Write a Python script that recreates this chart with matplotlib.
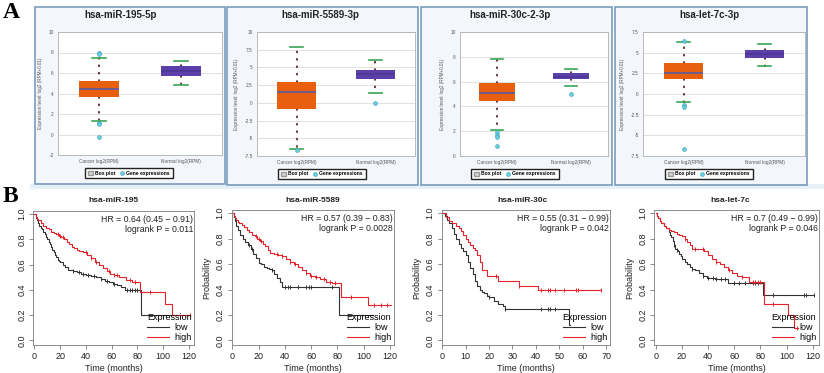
import matplotlib
matplotlib.use('Agg')
import matplotlib.pyplot as plt
from matplotlib.patches import Rectangle, Patch
from matplotlib.lines import Line2D
import numpy as np

plt.rcParams['font.family'] = ['Liberation Sans', 'DejaVu Sans']

# ---------------- Panel A : expression box plots ----------------
a_titles = ['hsa-miR-195-5p', 'hsa-miR-5589-3p', 'hsa-miR-30c-2-3p', 'hsa-let-7c-3p']
a_groups = ['Cancer log2(RPM)', 'Normal log2(RPM)']
a_yticks = [
    [-2, 0, 2, 4, 6, 8, 10],
    [-7.5, -5, -2.5, 0, 2.5, 5, 7.5, 10],
    [0, 2, 4, 6, 8, 10],
    [-7.5, -5, -2.5, 0, 2.5, 5, 7.5],
]
# q1, median, q3, whisker low, whisker high
cancer_box = [
    [3.65, 4.45, 5.25, 1.35, 7.5],
    [-0.9, 1.5, 2.9, -6.5, 7.9],
    [4.4, 5.1, 5.9, 2.1, 7.8],
    [1.8, 2.6, 3.7, -1.0, 6.3],
]
cancer_fliers = [
    [8.0, 7.9, 1.1, 1.0, -0.27],
    [-6.7],
    [1.9, 1.7, 1.55, 0.8],
    [6.45, -1.3, -1.6, -6.7],
]
normal_box = [
    [5.7, 6.2, 6.7, 4.85, 7.2],
    [3.3, 4.1, 4.6, 1.4, 6.0],
    [6.2, 6.35, 6.7, 5.65, 7.0],
    [4.3, 4.8, 5.3, 3.4, 6.1],
]
normal_fliers = [[], [0.0], [5.0], []]

# ---------------- Panel B : Kaplan-Meier curves ----------------
b_titles = ['hsa-miR-195', 'hsa-miR-5589', 'hsa-miR-30c', 'hsa-let-7c']
b_hr = ['HR = 0.64 (0.45 \u2212 0.91)', 'HR = 0.57 (0.39 \u2212 0.83)',
        'HR = 0.55 (0.31 \u2212 0.99)', 'HR = 0.7 (0.49 \u2212 0.99)']
b_p = ['logrank P = 0.011', 'logrank P = 0.0028', 'logrank P = 0.042', 'logrank P = 0.046']
b_xticks = [[0, 20, 40, 60, 80, 100, 120], [0, 20, 40, 60, 80, 100, 120],
            [0, 10, 20, 30, 40, 50, 60, 70], [0, 20, 40, 60, 80, 100, 120]]

# hsa-miR-195
m195_low_t = [0, 1, 2, 3, 4, 5, 6, 7, 8, 9, 10, 11, 12, 13, 14, 15, 16, 17, 18, 19, 20,
              22, 24, 26, 28, 30, 33, 36, 40, 44, 48, 52, 55, 58, 61, 64, 67, 70, 82.5]
m195_low_s = [1.0, 0.97, 0.95, 0.93, 0.91, 0.89, 0.88, 0.86, 0.84, 0.82, 0.80, 0.78, 0.76,
              0.74, 0.72, 0.70, 0.68, 0.66, 0.64, 0.63, 0.62, 0.60, 0.58, 0.56, 0.555, 0.55,
              0.54, 0.53, 0.52, 0.51, 0.50, 0.49, 0.47, 0.46, 0.45, 0.44, 0.42, 0.40, 0.20]
m195_low_end = 121
m195_low_cens = [30, 35, 38, 42, 46, 52, 56, 62, 72, 74, 76, 78, 80]
m195_high_t = [0, 1, 2, 3, 5, 7, 9, 11, 13, 15, 17, 19, 21, 23, 25, 27, 29, 31, 33, 35, 38,
               41, 44, 47, 50, 53, 56, 59, 62, 66, 71, 76, 82, 101, 107]
m195_high_s = [1.0, 0.98, 0.96, 0.95, 0.93, 0.91, 0.89, 0.88, 0.86, 0.85, 0.84, 0.83, 0.82,
               0.80, 0.78, 0.76, 0.74, 0.73, 0.72, 0.71, 0.70, 0.68, 0.65, 0.62, 0.60, 0.57,
               0.55, 0.53, 0.52, 0.50, 0.48, 0.46, 0.38, 0.29, 0.20]
m195_high_end = 121
m195_high_cens = [18, 20, 22, 40, 44, 48, 58, 62, 64, 74, 78, 90, 121]

# hsa-miR-5589
m5589_low_t = [0, 1, 2, 3, 4, 6, 8, 10, 12, 14, 16, 18, 20, 22, 24, 26, 28, 30, 32, 34, 36,
               38, 81]
m5589_low_s = [1.0, 0.97, 0.94, 0.90, 0.87, 0.83, 0.80, 0.77, 0.75, 0.72, 0.68, 0.65, 0.61,
               0.60, 0.58, 0.57, 0.56, 0.55, 0.52, 0.49, 0.46, 0.42, 0.20]
m5589_low_end = 107
m5589_low_cens = [13, 15, 30, 40, 42, 44, 50, 56, 58, 60, 76]
m5589_high_t = [0, 1, 2, 3, 4, 5, 7, 9, 11, 13, 15, 17, 19, 21, 23, 25, 27, 29, 32, 35, 38,
                41, 44, 47, 50, 53, 56, 59, 63, 67, 71, 76, 83, 103]
m5589_high_s = [1.0, 0.98, 0.96, 0.95, 0.93, 0.92, 0.91, 0.89, 0.87, 0.85, 0.83, 0.82, 0.80,
                0.78, 0.76, 0.74, 0.71, 0.69, 0.68, 0.67, 0.66, 0.64, 0.62, 0.60, 0.58, 0.55,
                0.53, 0.51, 0.50, 0.48, 0.46, 0.45, 0.34, 0.28]
m5589_high_end = 121
m5589_high_cens = [18, 20, 22, 34, 38, 44, 48, 56, 60, 64, 70, 74, 78, 90, 108, 113, 118]

# hsa-miR-30c
m30c_low_t = [0, 1, 2, 3, 4, 5, 6, 7, 8, 9, 10, 11, 12, 13, 14, 15, 16, 17, 18, 19, 20, 22,
              24, 26, 27, 54]
m30c_low_s = [1.0, 0.98, 0.95, 0.92, 0.88, 0.84, 0.80, 0.76, 0.73, 0.70, 0.67, 0.62, 0.57,
              0.52, 0.47, 0.43, 0.40, 0.38, 0.37, 0.35, 0.34, 0.31, 0.29, 0.27, 0.25, 0.12]
m30c_low_end = 54.5
m30c_low_cens = [20, 27, 42, 45, 46, 48]
m30c_high_t = [0, 1.5, 3, 4, 6, 7, 8, 9, 10, 11, 12, 13, 14, 15, 16, 17, 19, 24, 33, 41]
m30c_high_s = [1.0, 0.97, 0.94, 0.92, 0.90, 0.88, 0.86, 0.83, 0.80, 0.77, 0.75, 0.73, 0.71,
               0.67, 0.62, 0.55, 0.51, 0.47, 0.43, 0.40]
m30c_high_end = 68
m30c_high_cens = [23, 33, 42, 45, 46, 48, 52, 57, 58, 68]

# hsa-let-7c
l7c_low_t = [0, 1, 2, 3, 4, 6, 8, 10, 11, 12, 13, 14, 15, 16, 17, 18, 19, 20, 22, 24, 26,
             28, 30, 33, 36, 39, 45, 55, 82]
l7c_low_s = [1.0, 0.98, 0.96, 0.94, 0.92, 0.90, 0.88, 0.85, 0.83, 0.81, 0.78, 0.75, 0.72,
             0.71, 0.70, 0.68, 0.66, 0.64, 0.62, 0.60, 0.58, 0.56, 0.55, 0.53, 0.51, 0.49,
             0.48, 0.45, 0.36]
l7c_low_end = 121
l7c_low_cens = [14, 16, 28, 36, 40, 44, 46, 50, 53, 60, 64, 68, 74, 76, 78, 90, 113, 115, 121]
l7c_high_t = [0, 1, 2, 3, 4, 6, 8, 10, 12, 14, 16, 18, 20, 22, 24, 26, 28, 37, 40, 43, 46,
              49, 52, 55, 58, 62, 66, 71, 83, 101, 106]
l7c_high_s = [1.0, 0.98, 0.96, 0.94, 0.92, 0.90, 0.88, 0.87, 0.86, 0.85, 0.84, 0.83, 0.82,
              0.80, 0.77, 0.75, 0.72, 0.70, 0.67, 0.64, 0.62, 0.60, 0.58, 0.55, 0.53, 0.51,
              0.50, 0.46, 0.29, 0.20, 0.10]
l7c_high_end = 109
l7c_high_cens = [22, 30, 36, 46, 56, 66, 74, 76, 78, 80, 90, 108]

km_low = [
    (m195_low_t, m195_low_s, m195_low_end, m195_low_cens),
    (m5589_low_t, m5589_low_s, m5589_low_end, m5589_low_cens),
    (m30c_low_t, m30c_low_s, m30c_low_end, m30c_low_cens),
    (l7c_low_t, l7c_low_s, l7c_low_end, l7c_low_cens),
]
km_high = [
    (m195_high_t, m195_high_s, m195_high_end, m195_high_cens),
    (m5589_high_t, m5589_high_s, m5589_high_end, m5589_high_cens),
    (m30c_high_t, m30c_high_s, m30c_high_end, m30c_high_cens),
    (l7c_high_t, l7c_high_s, l7c_high_end, l7c_high_cens),
]

# ---------------- layout ----------------
W, H = 824, 373
fig = plt.figure(figsize=(W / 100, H / 100), dpi=100)


def px_axes(x0, y0, x1, y1):
    return fig.add_axes([x0 / W, 1 - y1 / H, (x1 - x0) / W, (y1 - y0) / H])


def px_rect(x0, y0, x1, y1, **kw):
    fig.add_artist(Rectangle((x0 / W, 1 - y1 / H), (x1 - x0) / W, (y1 - y0) / H,
                             transform=fig.transFigure, **kw))


fig.text(3 / W, 1 - 13 / H, 'A', fontsize=17, fontweight='bold',
         family='Liberation Serif', va='center', ha='left')
fig.text(3 / W, 1 - 197 / H, 'B', fontsize=17, fontweight='bold',
         family='Liberation Serif', va='center', ha='left')

px_rect(30, 184, 824, 189, facecolor='#e6f0f8', edgecolor='none', zorder=0)

frames = [(35, 7, 225, 184), (227, 7, 418, 185), (421, 7, 612, 185), (615, 7, 807, 185)]
plot_areas = [(58, 32, 222, 155), (257, 32, 415, 156), (460, 32, 608, 156), (643, 32, 805, 156)]
title_x = [121, 320, 510, 709]
legend_c = [(129, 173), (322, 174), (515, 174), (709, 174)]

orange = '#e8600e'
purple = '#5c3fa8'
cyan_f = '#66d0e0'
cyan_e = '#3a9fb5'

for i in range(4):
    px_rect(*frames[i], facecolor='#f3f7fc', edgecolor='#6f93b8', lw=1.1, zorder=0)
    fig.text(title_x[i] / W, 1 - 15 / H, a_titles[i], fontsize=7, fontweight='bold',
             ha='center', va='center', color='#222')
    ax = px_axes(*plot_areas[i])
    stats = []
    for box, fl in [(cancer_box[i], cancer_fliers[i]), (normal_box[i], normal_fliers[i])]:
        stats.append(dict(q1=box[0], med=box[1], q3=box[2], whislo=box[3], whishi=box[4],
                          fliers=fl))
    bp = ax.bxp(stats, positions=[1, 2], widths=0.49, patch_artist=True, capwidths=0.16,
                boxprops=dict(edgecolor='none'),
                whiskerprops=dict(color='#5a1f1f', linestyle=(0, (0.5, 3.6)), lw=1.3,
                                  dash_capstyle='round'),
                capprops=dict(color='#3aa655', lw=1.2),
                medianprops=dict(lw=1.4),
                flierprops=dict(marker='o', markersize=2.8, markerfacecolor=cyan_f,
                                markeredgecolor=cyan_e, markeredgewidth=0.4))
    bp['boxes'][0].set_facecolor(orange)
    bp['boxes'][1].set_facecolor(purple)
    bp['medians'][0].set_color('#6d5c8e')
    bp['medians'][1].set_color('#4e3898')
    for w in bp['whiskers']:
        w.set_zorder(1)
    ax.set_xlim(0.5, 2.5)
    ax.set_ylim(a_yticks[i][0], a_yticks[i][-1])
    ax.set_yticks(a_yticks[i])
    ax.set_yticklabels(['{:g}'.format(v) for v in a_yticks[i]])
    ax.set_xticks([1, 2])
    ax.set_xticklabels(a_groups)
    ax.yaxis.grid(True, color='#dcdcdc', lw=0.6)
    ax.set_axisbelow(True)
    ax.tick_params(length=0, labelsize=3.4, labelcolor='#555', pad=3)
    for sp in ax.spines.values():
        sp.set_color('#b0b0b0')
        sp.set_linewidth(0.6)
    ax.set_facecolor('white')
    ax.set_ylabel('Expression level: log2 (RPM+0.01)', fontsize=3.3, color='#555', labelpad=4)
    handles = [Patch(facecolor='#d4d4d4', edgecolor='#999'),
               Line2D([], [], marker='o', ls='', markersize=2.8, markerfacecolor=cyan_f,
                      markeredgecolor=cyan_e, markeredgewidth=0.4)]
    cx, cy = legend_c[i]
    fig.legend(handles, ['Box plot', 'Gene expressions'], loc='center',
               bbox_to_anchor=(cx / W, 1 - cy / H), ncol=2, frameon=True, fancybox=False,
               edgecolor='#222', prop=dict(size=3.6, weight='bold'), handlelength=0.9,
               handleheight=0.9, handletextpad=0.4, columnspacing=1.0, borderpad=0.55,
               framealpha=1)

# ---------------- Panel B drawing ----------------
km_areas = [(33.3, 211, 194.3, 345), (231.7, 210, 394, 345), (441.7, 210, 610, 345),
            (654.3, 210, 819, 345)]
km_xlim = [(-0.8, 124.1), (-0.5, 123), (-0.26, 71.7), (-1.1, 124.8)]
km_ylim = (-0.036, 1.025)
km_title_x = [113, 313, 523, 730]
low_col = '#333333'
high_col = '#e3242b'


def km(ax, t, s, end, cens, color):
    tt = list(t) + [end]
    ss = list(s) + [s[-1]]
    ax.step(tt, ss, where='post', color=color, lw=0.8)
    idx = np.searchsorted(t, cens, side='right') - 1
    ax.plot(cens, np.array(s)[idx], ls='', marker='|', ms=3.2, mew=0.7, color=color)


for i in range(4):
    ax = px_axes(*km_areas[i])
    km(ax, *km_low[i], low_col)
    km(ax, *km_high[i], high_col)
    ax.set_xlim(*km_xlim[i])
    ax.set_ylim(*km_ylim)
    ax.set_xticks(b_xticks[i])
    ax.set_yticks([0, 0.2, 0.4, 0.6, 0.8, 1.0])
    ax.set_yticklabels(['0.0', '0.2', '0.4', '0.6', '0.8', '1.0'], rotation=90, va='center')
    ax.tick_params(length=3, width=0.6, color='#777', labelsize=6.5, labelcolor='#222', pad=2)
    for sp in ax.spines.values():
        sp.set_color('#8c8c8c')
        sp.set_linewidth(0.7)
    ax.set_xlabel('Time (months)', fontsize=6.5, color='#222', labelpad=2)
    if i > 0:
        ax.set_ylabel('Probability', fontsize=6.5, color='#222', labelpad=3)
    ax.text(0.995, 0.97, b_hr[i] + '\n' + b_p[i], transform=ax.transAxes, ha='right',
            va='top', fontsize=6.3, color='#222', linespacing=1.15)
    fig.text(km_title_x[i] / W, 1 - 200 / H, b_titles[i], fontsize=6, fontweight='bold',
             ha='center', va='center', color='#222')
    hnd = [Line2D([], [], color=low_col, lw=0.8), Line2D([], [], color=high_col, lw=0.8)]
    leg = ax.legend(hnd, ['low', 'high'], title='Expression', loc='lower right',
                    frameon=False, fontsize=6.5, title_fontsize=6.5, handlelength=2.4,
                    handletextpad=0.6, labelspacing=0.15, borderaxespad=0.2, borderpad=0.1)
    leg._legend_box.align = 'right'

fig.savefig('out.png', dpi=100)
